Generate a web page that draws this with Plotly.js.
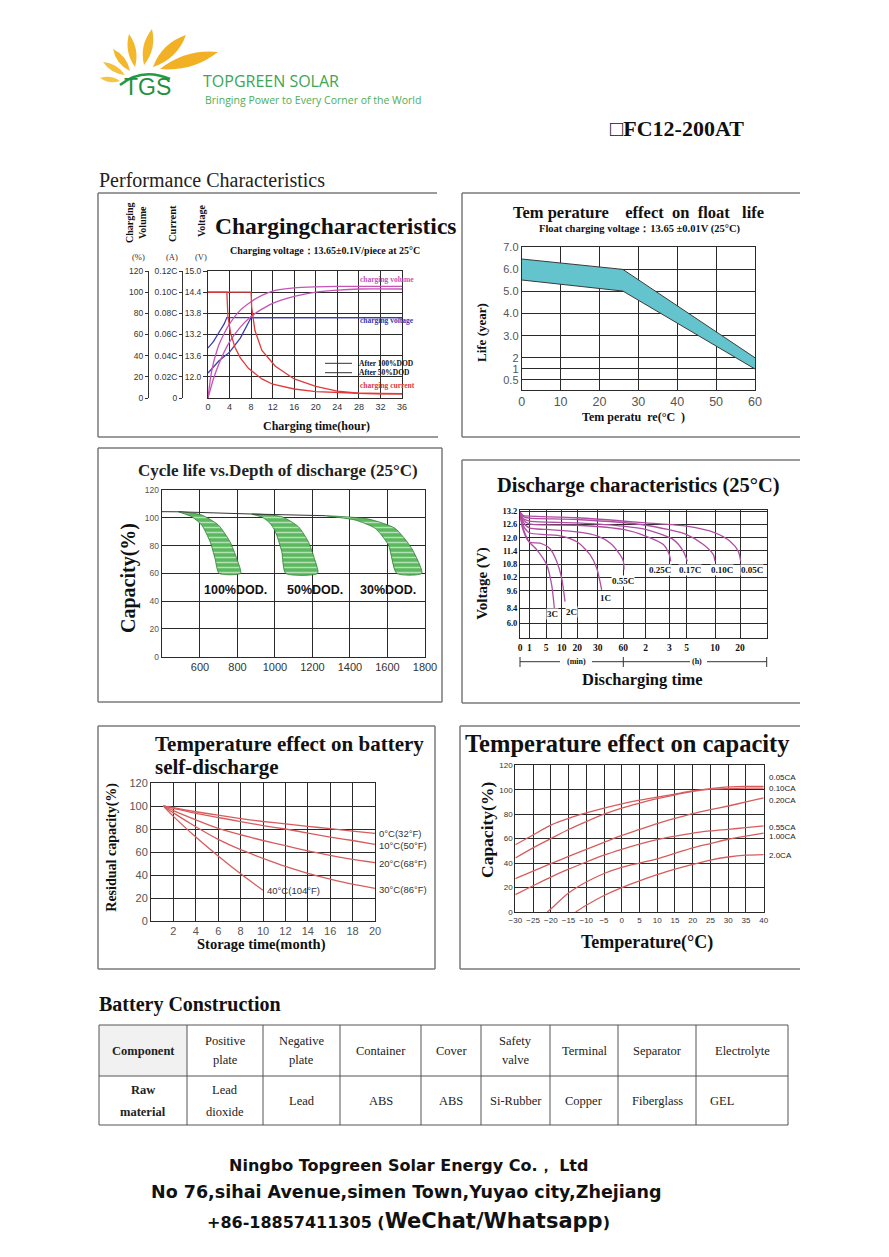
<!DOCTYPE html>
<html><head><meta charset="utf-8">
<script src="https://cdn.plot.ly/plotly-3.0.1.min.js"></script>
<style>html,body{margin:0;padding:0;background:#fff}#chart{width:889px;height:1257px}</style>
</head><body><div id="chart"></div>
<script>
// ================= DATA =================
// Charging characteristics
const chgHours = [0,4,8,12,16,20,24,28,32,36];
const chgTime100Vol = [0,0.5,1,1.5,2,3,4,6,8,10,12,16,20,24,28,36];
const chgVol100 = [0,20,33,42,50,61,70,83,91,97,101,104,105,105.5,105.5,105.5];
const chgTime50Vol = [0,1,2,4,6,8,10,12,16,20,24,28,36];
const chgVol50 = [0,18,32,53,67,77,84,89.5,96,100,102,103,103];
const chgTime100V = [0,1,2,3,3.5,36];
const chgV100 = [12.82,13.0,13.25,13.5,13.68,13.68];
const chgTime50V = [0,2,4,6,8,36];
const chgV50 = [12.11,12.45,12.7,13.1,13.68,13.68];
const chgTime100I = [0,3.5,3.7,4.2,5,6,7.5,10,12,16,20,24,28,36];
const chgI100 = [0.10,0.10,0.077,0.061,0.048,0.038,0.028,0.018,0.013,0.0085,0.006,0.005,0.0045,0.004];
const chgTime50I = [0,8,8.1,8.7,10,12.5,16,20,24,28,32,36];
const chgI50 = [0.10,0.10,0.086,0.064,0.045,0.030,0.018,0.011,0.0065,0.0045,0.004,0.004];
const chgVolTicks = [0,20,40,60,80,100,120];
const chgCurTicks = [0,0.02,0.04,0.06,0.08,0.10,0.12];
const chgCurLabels = ['0','0.02C','0.04C','0.06C','0.08C','0.10C','0.12C'];
const chgVoltTicks = [12.0,12.6,13.2,13.8,14.4,15.0];
const chgVoltLabels = ['12.0','13.6','13.2','13.8','14.4','15.0'];

// Temperature effect on float life
const floatTemp = [0,26,60];
const floatLifeUpper = [6.47,6.0,2.0];
const floatLifeLower = [5.52,5.02,1.49];
const floatXTicks = [0,10,20,30,40,50,60];
const floatYTicks = [1.0,1.5,2.0,3,4,5,6,7];
const floatYLabels = ['0.5','1','2','3.0','4.0','5.0','6.0','7.0'];

// Cycle life vs depth of discharge
const cycXTicks = [600,800,1000,1200,1400,1600,1800];
const cycYTicks = [0,20,40,60,80,100,120];
const cycTopCycles = [396,485,876,1267];
const cycTopCap = [104.4,104.3,102.7,101.5];
const dod100InCyc = [485,556,609,654,680,702];
const dod100InCap = [104.4,100.8,94.8,82.8,70.8,60];
const dod100OutCyc = [485,609,698,760,796,817];
const dod100OutCap = [104.4,102,94.8,82.8,70.8,60];
const dod50InCyc = [876,930,965,990,1009,1036,1057];
const dod50InCap = [102.7,100.5,97.2,93,87.6,75.6,60];
const dod50OutCyc = [876,1036,1125,1178,1210,1228];
const dod50OutCap = [102.7,100.8,93.6,82.8,70.8,60];
const dod30InCyc = [1267,1427,1534,1605,1649];
const dod30InCap = [101.5,98.4,92.4,80.4,60];
const dod30OutCyc = [1267,1498,1640,1729,1783];
const dod30OutCap = [101.5,99.1,92.4,78,60];
const dodLabels = ['100%DOD.','50%DOD.','30%DOD.'];

// Discharge characteristics (x = position along the hand-drawn time scale)
const disTickPos = [0,28,78,125,172,233,310,377,448,500,585,660];
const disTickLabels = ['0','1','5','10','20','30','60','2','3','5','10','20'];
const disVTicks = [13.2,12.6,12.0,11.4,10.8,10.2,9.6,8.81,8.13];
const disVLabels = ['13.2','12.6','12.0','11.4','10.8','10.2','9.6','8.4','6.0'];
const dis3C_t = [0,8,28,50,80,95,103];
const dis3C_v = [13.15,12.5,11.8,11.46,10.78,9.87,8.81];
const dis2C_t = [0,8,28,60,90,110,125,135];
const dis2C_v = [13.15,12.4,11.8,11.75,11.5,10.93,10.17,9.11];
const dis1C_t = [0,8,28,78,125,172,210,230,245];
const dis1C_v = [13.15,12.6,12.22,12.14,12.07,11.8,11.23,10.63,9.64];
const dis055C_t = [0,8,28,78,172,233,270,300,310,312];
const dis055C_v = [13.15,12.75,12.44,12.37,12.26,12.07,11.76,11.23,10.93,10.55];
const dis025C_t = [0,10,28,172,310,377,430,448,452];
const dis025C_v = [13.15,12.8,12.62,12.56,12.37,12.07,11.69,11.23,10.93];
const dis017C_t = [0,10,28,172,310,377,460,490,502];
const dis017C_v = [13.15,12.85,12.75,12.67,12.52,12.37,11.91,11.38,10.93];
const dis010C_t = [0,10,28,172,378,500,550,580,585];
const dis010C_v = [13.15,12.95,12.88,12.82,12.56,12.14,11.69,11.23,10.93];
const dis005C_t = [0,10,28,172,378,500,585,630,655,662];
const dis005C_v = [13.15,13.0,12.97,12.9,12.67,12.52,12.22,11.84,11.38,10.93];
const disRateLabels = ['3C','2C','1C','0.55C','0.25C','0.17C','0.10C','0.05C'];
const disLabelPos = [98,154,255,308,420,510,605,695];
const disLabelV = [8.54,8.63,9.27,10.02,10.55,10.55,10.55,10.55];

// Temperature effect on self-discharge
const sdXTicks = [2,4,6,8,10,12,14,16,18,20];
const sdYTicks = [0,20,40,60,80,100,120];
const sdMonth = [1.1,2,4,6,8,10,12,14,16,18,20];
const sd0C = [100,98.5,95,92,89,86.5,84.5,82.3,80.3,78.2,76.2];
const sd10C = [100,98,93.5,90,86.5,83,80,76.5,73,70,66.7];
const sd20C = [100,96,88,80.5,75,70,65.5,61,57,53.5,50.7];
const sd30C = [100,94,82,71,62,54.5,47.5,41.5,36.5,32,28.4];
const sdMonth40 = [1.1,2,4,6,8,10];
const sd40C = [100,91,73,56.5,41,26.7];
const sdLabels = ['0°C(32°F)','10°C(50°F)','20°C(68°F)','30°C(86°F)','40°C(104°F)'];
const sdLabelY = [76,65.5,50,27.5,26.5];

// Temperature effect on capacity
const tcXTicks = [-30,-25,-20,-15,-10,-5,0,5,10,15,20,25,30,35,40];
const tcYTicks = [0,20,40,60,80,100,120];
const tcTemp = [-30,-25,-20,-15,-10,-5,0,5,10,15,20,25,30,35,40];
const tc005 = [55,63,71,76.5,81,85,88.5,91.5,94,96.5,99,101,102.3,102.8,102.8];
const tc010 = [44.2,52.5,60,67.5,74,80,85,89,92.7,95.8,98.7,100.5,101,101.3,101.4];
const tc020 = [27.3,33.5,39.5,45.5,51.3,57,62.7,67.5,72.3,76.5,80.4,83.7,86.7,90,93.3];
const tc055 = [14.2,21.5,28.6,35,40.9,46.5,51.3,55.5,59.2,62,64.6,66.3,67.6,69,70.4];
const tcTemp100 = [-21,-20,-15,-10,-5,0,5,10,15,20,25,30,35,40];
const tc100 = [0,2.5,15.5,24.5,31.5,36.5,40,43.5,48,52.5,56,59.5,62,64.5];
const tcTemp200 = [-13,-10,-5,0,5,10,15,20,25,30,35,40];
const tc200 = [0,5.5,13.5,20,25.5,30.5,35,39,42.5,45,46.5,47];
const tcLabels = ['0.05CA','0.10CA','0.20CA','0.55CA','1.00CA','2.0CA'];
const tcLabelY = [110,101,91.4,69.5,61.4,46.6];

// Battery construction table
const tableHeader = ['Component','Positive<br>plate','Negative<br>plate','Container','Cover','Safety<br>valve','Terminal','Separator','Electrolyte'];
const tableRow = ['Raw<br>material','Lead<br>dioxide','Lead','ABS','ABS','Si-Rubber','Copper','Fiberglass','GEL'];

// ================= LAYOUT HELPERS =================
const W = 889, H = 1257;
const SERIF = 'Liberation Serif, Times New Roman, serif';
const SANS = 'Liberation Sans, Arial, sans-serif';
const NARROW = 'Liberation Sans Narrow, Liberation Sans, Arial, sans-serif';
const WIDE = 'DejaVu Sans, Liberation Sans, sans-serif';
const PINK = '#C653B6', BLUE = '#3B3BB3', RED = '#E03A3A', PURPLE = '#B04EA2', LRED = '#D85C5C';
const xd = (a,b) => [a/W, b/W];
const yd = (top,bot) => [1-bot/H, 1-top/H];
function A(text, x, y, o) {
  return Object.assign({text:text, x:x/W, y:1-y/H, xref:'paper', yref:'paper', showarrow:false,
    xanchor:'center', yanchor:'middle', font:{family:SERIF, size:12, color:'#111'}}, o||{});
}
function L(x0,y0,x1,y1,color,width) {
  return {type:'line', xref:'paper', yref:'paper', x0:x0/W, y0:1-y0/H, x1:x1/W, y1:1-y1/H,
    line:{color:color||'#7a7a7a', width:width||1.5}};
}
function axis(o) {
  return Object.assign({showgrid:true, gridcolor:'#2a2a2a', gridwidth:1, showline:true, linecolor:'#2a2a2a',
    linewidth:1, mirror:true, zeroline:false, ticks:'', fixedrange:true, tickangle:0,
    tickfont:{family:SANS, size:10, color:'#333'}}, o);
}
function ln(x, y, xa, ya, color, w, shape) {
  return {type:'scatter', mode:'lines', x:x, y:y, xaxis:xa, yaxis:ya, hoverinfo:'skip', showlegend:false,
    line:{color:color, width:w||1.2, shape:shape||'spline', smoothing:0.7}};
}
function leaf(bx,by,tx,ty,w,color) {
  const mx=(bx+tx)/2, my=(by+ty)/2, dx=tx-bx, dy=ty-by, len=Math.hypot(dx,dy);
  const nx=-dy/len*w, ny=dx/len*w;
  const p=(x,y)=>(x/W).toFixed(5)+','+(1-y/H).toFixed(5);
  return {type:'path', xref:'paper', yref:'paper', fillcolor:color, line:{width:0},
    path:'M '+p(bx,by)+' Q '+p(mx+nx,my+ny)+' '+p(tx,ty)+' Q '+p(mx-nx,my-ny)+' '+p(bx,by)+' Z'};
}

// ================= TRACES =================
const traces = [];
// Chart 1
traces.push(ln(chgTime100Vol, chgVol100, 'x', 'y2', PINK, 1.3));
traces.push(ln(chgTime50Vol, chgVol50, 'x', 'y2', PINK, 1.3));
traces.push(ln(chgTime100V, chgV100, 'x', 'y', BLUE, 1.3, 'linear'));
traces.push(ln(chgTime50V, chgV50, 'x', 'y', BLUE, 1.3, 'linear'));
traces.push(ln(chgTime100I, chgI100, 'x', 'y3', RED, 1.3, 'linear'));
traces.push(ln(chgTime50I, chgI50, 'x', 'y3', RED, 1.3, 'linear'));
// Chart 2
traces.push(ln(floatTemp, floatLifeLower, 'x2', 'y4', '#3a3a3a', 1, 'linear'));
traces.push(Object.assign(ln(floatTemp, floatLifeUpper, 'x2', 'y4', '#3a3a3a', 1, 'linear'), {fill:'tonexty', fillcolor:'#63C4CD'}));
// Chart 3
function band(inC, inY, outC, outY) {
  return {type:'scatter', mode:'lines', xaxis:'x3', yaxis:'y5', hoverinfo:'skip', showlegend:false,
    x: inC.concat(outC.slice().reverse()), y: inY.concat(outY.slice().reverse()),
    fill:'toself', fillcolor:'#5CB85E',
    fillpattern:{shape:'-', bgcolor:'#5CB85E', fgcolor:'#ffffff', fgopacity:0.55, size:5, solidity:0.3},
    line:{color:'#2F7D33', width:0.8, shape:'spline', smoothing:0.6}};
}
traces.push(band(dod100InCyc, dod100InCap, dod100OutCyc, dod100OutCap));
traces.push(band(dod50InCyc, dod50InCap, dod50OutCyc, dod50OutCap));
traces.push(band(dod30InCyc, dod30InCap, dod30OutCyc, dod30OutCap));
traces.push(ln(cycTopCycles, cycTopCap, 'x3', 'y5', '#333', 1, 'linear'));
// Chart 4
[[dis3C_t,dis3C_v],[dis2C_t,dis2C_v],[dis1C_t,dis1C_v],[dis055C_t,dis055C_v],
 [dis025C_t,dis025C_v],[dis017C_t,dis017C_v],[dis010C_t,dis010C_v],[dis005C_t,dis005C_v]]
 .forEach(c => traces.push(ln(c[0], c[1], 'x4', 'y6', PURPLE, 1.3)));
// Chart 5
[sd0C, sd10C, sd20C, sd30C].forEach(s => traces.push(ln(sdMonth, s, 'x5', 'y7', LRED, 1.3)));
traces.push(ln(sdMonth40, sd40C, 'x5', 'y7', LRED, 1.3));
// Chart 6
[tc005, tc010, tc020, tc055].forEach(s => traces.push(ln(tcTemp, s, 'x6', 'y8', LRED, 1.3)));
traces.push(ln(tcTemp100, tc100, 'x6', 'y8', LRED, 1.3));
traces.push(ln(tcTemp200, tc200, 'x6', 'y8', LRED, 1.3));

// ================= AXES =================
const layout = {
  width: W, height: H, margin:{l:0,r:0,t:0,b:0}, paper_bgcolor:'#fff', plot_bgcolor:'rgba(0,0,0,0)',
  showlegend:false,
  // Chart 1
  xaxis: axis({domain:xd(208,402), range:[0,36], tickvals:chgHours, anchor:'y',
    tickfont:{family:NARROW, size:9, color:'#333'}}),
  yaxis: axis({domain:yd(271,398), range:[11.4,15.0], tickvals:chgVoltTicks, ticktext:chgVoltLabels, anchor:'x',
    ticks:'outside', ticklen:4, tickcolor:'#333', tickfont:{family:NARROW, size:8.5, color:'#333'}}),
  yaxis2: {overlaying:'y', anchor:'free', position:148/W, range:[0,120], tickvals:chgVolTicks, showgrid:false,
    showline:true, linecolor:'#333', ticks:'outside', ticklen:3, tickcolor:'#333', zeroline:false, fixedrange:true,
    tickfont:{family:NARROW, size:8.5, color:'#333'}},
  yaxis3: {overlaying:'y', anchor:'free', position:182/W, range:[0,0.12], tickvals:chgCurTicks, ticktext:chgCurLabels,
    showgrid:false, showline:true, linecolor:'#333', ticks:'outside', ticklen:3, tickcolor:'#333', zeroline:false,
    fixedrange:true, tickfont:{family:NARROW, size:8.5, color:'#333'}},
  // Chart 2
  xaxis2: axis({domain:xd(521.7,755), range:[0,60], tickvals:floatXTicks, anchor:'y4',
    tickfont:{family:SANS, size:12.5, color:'#555'}}),
  yaxis4: axis({domain:yd(247.3,390), range:[0.54,7.0], tickvals:floatYTicks, ticktext:floatYLabels, anchor:'x2',
    tickfont:{family:SANS, size:11, color:'#555'}}),
  // Chart 3
  xaxis3: axis({domain:xd(161.7,425), range:[396,1800], tickvals:cycXTicks, anchor:'y5',
    tickfont:{family:SANS, size:11, color:'#333'}}),
  yaxis5: axis({domain:yd(490,656.7), range:[0,120], tickvals:cycYTicks, anchor:'x3',
    tickfont:{family:NARROW, size:8.5, color:'#555'}}),
  // Chart 4
  xaxis4: axis({domain:xd(520,766.7), range:[0,740], tickvals:disTickPos, ticktext:disTickLabels, anchor:'y6',
    tickfont:{family:SERIF, size:9.5, color:'#111', weight:'bold'}}),
  yaxis6: axis({domain:yd(510,638.3), range:[7.45,13.25], tickvals:disVTicks, ticktext:disVLabels, anchor:'x4',
    tickfont:{family:SERIF, size:8.5, color:'#111', weight:'bold'}}),
  // Chart 5
  xaxis5: axis({domain:xd(151,375), range:[0,20], tickvals:sdXTicks, anchor:'y7',
    tickfont:{family:SANS, size:11, color:'#555'}}),
  yaxis7: axis({domain:yd(783,921), range:[0,120], tickvals:sdYTicks, anchor:'x5',
    tickfont:{family:SANS, size:11, color:'#555'}}),
  // Chart 6
  xaxis6: axis({domain:xd(515.3,763.7), range:[-30,40], tickvals:tcXTicks, anchor:'y8',
    tickfont:{family:NARROW, size:8, color:'#333'}}),
  yaxis8: axis({domain:yd(765.3,912), range:[0,120], tickvals:tcYTicks, anchor:'x6',
    tickfont:{family:NARROW, size:8, color:'#333'}})
};

// ================= SHAPES =================
const shapes = [];
// panel frames
shapes.push(L(98,193,437,193), L(98,193,98,437), L(98,437,438,437));
shapes.push(L(462,193,800,193), L(462,193,462,437), L(462,437,800,437));
shapes.push(L(98,448,442,448), L(98,448,98,702), L(98,702,442,702), L(442,448,442,702));
shapes.push(L(462,460,800,460), L(462,460,462,703), L(462,703,800,703));
shapes.push(L(98,726,435,726), L(98,726,98,969), L(98,969,435,969), L(435,726,435,969));
shapes.push(L(460,726,800,726), L(460,726,460,969), L(460,969,800,969));
// chart1 legend lines
shapes.push(L(325,363.3,352,363.3,'#333',1), L(325,372.7,352,372.7,'#333',1));
// chart4 time bracket
shapes.push(L(520,661.7,560,661.7,'#333',1), L(592,661.7,690,661.7,'#333',1), L(707,661.7,766.7,661.7,'#333',1));
shapes.push(L(520,657,520,667,'#333',1), L(623.3,657,623.3,667,'#333',1), L(766.7,657,766.7,667,'#333',1));
// logo petals
const GOLD = '#F3B72B';
shapes.push(leaf(120,81,100,78,5,'#F6C544'), leaf(125,75,103,62,6,'#F5C03A'), leaf(130,71,113,49,7,GOLD),
  leaf(135,67,129,34,8,GOLD), leaf(144,65,152,29,9,GOLD), leaf(153,67,186,35,11,'#F2B124'), leaf(160,69,218,52,12,'#F2B124'));
shapes.push({type:'path', xref:'paper', yref:'paper', line:{color:'#249A45', width:2.5},
  path:'M '+(120/W)+','+(1-85/H)+' Q '+(142/W)+','+(1-67/H)+' '+(170/W)+','+(1-79/H)});
// table
const colEdges = [99,187,263,340,421,481,550,618,696,788];
const rowEdges = [1025,1076,1125];
shapes.push({type:'rect', xref:'paper', yref:'paper', x0:99/W, x1:187/W, y0:1-1076/H, y1:1-1025/H,
  fillcolor:'#f1f1f1', line:{width:0}, layer:'below'});
rowEdges.forEach(r => shapes.push(L(colEdges[0], r, colEdges[colEdges.length-1], r, '#555', 1)));
colEdges.forEach(c => shapes.push(L(c, rowEdges[0], c, rowEdges[2], '#555', 1)));
layout.shapes = shapes;

// ================= ANNOTATIONS =================
const ann = [];
const F = (family,size,color) => ({family:family, size:size, color:color||'#111'});
// header
ann.push(A('TGS', 147, 87, {font:F(SANS,23,'#1E9140')}));
ann.push(A('TOPGREEN SOLAR', 201, 80.5, {xanchor:'left', font:F('Open Sans, Liberation Sans, sans-serif',16,'#3BA655')}));
ann.push(A('Bringing Power to Every Corner of the World', 203, 99.5, {xanchor:'left', font:F('Open Sans, Liberation Sans, sans-serif',10.5,'#4FAE58')}));
ann.push(A('<b>\u25A1FC12-200AT</b>', 608, 128, {xanchor:'left', font:F(SERIF,22)}));
ann.push(A('Performance Characteristics', 97, 180, {xanchor:'left', font:F(SERIF,20,'#222')}));
// chart 1
ann.push(A('<b>Chargingcharacteristics</b>', 335, 226, {font:F(SERIF,23.5)}));
ann.push(A('<b>Charging voltage\uFF1A13.65\u00B10.1V/piece at 25\u00B0C</b>', 325, 250, {font:F(SERIF,10)}));
ann.push(A('<b>Charging<br>Volume</b>', 136, 223, {textangle:-90, font:F(SERIF,10)}));
ann.push(A('<b>Current</b>', 172, 224, {textangle:-90, font:F(SERIF,10.5)}));
ann.push(A('<b>Voltage</b>', 202, 221, {textangle:-90, font:F(SERIF,10)}));
ann.push(A('(%)', 138, 257, {font:F(SERIF,8.5,'#333')}));
ann.push(A('(A)', 172, 257, {font:F(SERIF,8.5,'#333')}));
ann.push(A('(V)', 201, 257, {font:F(SERIF,8.5,'#333')}));
ann.push(A('<b>Charging time(hour)</b>', 316, 426, {font:F(SERIF,12)}));
ann.push(A('<b>After 100%DOD</b>', 357, 363.3, {xanchor:'left', font:F(SERIF,7.5)}));
ann.push(A('<b>After 50%DOD</b>', 357, 372.7, {xanchor:'left', font:F(SERIF,7.5)}));
ann.push(A('<b>charging volume</b>', 358, 280, {xanchor:'left', font:F(SERIF,7.5,PINK)}));
ann.push(A('<b>charging voltage</b>', 358, 321, {xanchor:'left', font:F(SERIF,7.5,BLUE)}));
ann.push(A('<b>charging current</b>', 358, 386, {xanchor:'left', font:F(SERIF,7.5,RED)}));
// chart 2
ann.push(A('<b>Tem perature\u00A0\u00A0\u00A0 effect\u00A0 on\u00A0 float\u00A0\u00A0 life</b>', 638, 213, {font:F(SERIF,16.5)}));
ann.push(A('<b>Float charging voltage\uFF1A13.65 \u00B10.01V (25\u00B0C)</b>', 640, 229, {font:F(SERIF,10.5)}));
ann.push(A('<b>Life (year)</b>', 481, 333, {textangle:-90, font:F(SERIF,13)}));
ann.push(A('<b>Tem peratu\u00A0 re(\u00B0C\u00A0 )</b>', 633, 416.7, {font:F(SERIF,12)}));
// chart 3
ann.push(A('<b>Cycle life vs.Depth of discharge (25\u00B0C)</b>', 278, 470, {font:F(SERIF,17,'#222')}));
ann.push(A('<b>Capacity(%)</b>', 128, 578, {textangle:-90, font:F(SERIF,20)}));
const dodX = [235,315,388];
dodLabels.forEach((t,i) => ann.push(A('<b>'+t+'</b>', dodX[i], 590, {font:F(NARROW,12.5)})));
// chart 4
ann.push(A('<b>Discharge characteristics (25\u00B0C)</b>', 638.5, 485.7, {font:F(SERIF,20.5)}));
ann.push(A('<b>Voltage (V)</b>', 481.7, 584, {textangle:-90, font:F(SERIF,15)}));
ann.push(A('<b>Discharging time</b>', 642, 679, {font:F(SERIF,16.5)}));
ann.push(A('<b>(min)</b>', 576.7, 661.7, {font:F(SERIF,8)}));
ann.push(A('<b>(h)</b>', 697, 661.7, {font:F(SERIF,8)}));
disRateLabels.forEach((t,i) => ann.push({text:'<b>'+t+'</b>', x:disLabelPos[i], y:disLabelV[i], xref:'x4', yref:'y6',
  showarrow:false, bgcolor:'#fff', borderpad:0, font:F(SERIF,9)}));
// chart 5
ann.push(A('<b>Temperature effect on battery</b>', 153, 743.7, {xanchor:'left', font:F(SERIF,21)}));
ann.push(A('<b>self-discharge</b>', 153, 767, {xanchor:'left', font:F(SERIF,21)}));
ann.push(A('<b>Residual capacity(%)</b>', 111.7, 847, {textangle:-90, font:F(SERIF,14)}));
ann.push(A('<b>Storage time(month)</b>', 261.7, 945, {font:F(SERIF,14.5)}));
sdLabels.forEach((t,i) => ann.push({text:t, x:(i<4?20:10.2), y:sdLabelY[i], xref:'x5', yref:'y7', showarrow:false,
  xanchor:'left', xshift:(i<4?2:0), font:F(SANS,9.5,'#333')}));
// chart 6
ann.push(A('<b>Temperature effect on capacity</b>', 627, 743.7, {font:F(SERIF,24.5)}));
ann.push(A('<b>Capacity(%)</b>', 487, 830, {textangle:-90, font:F(SERIF,17.5)}));
ann.push(A('<b>Temperature(\u00B0C)</b>', 647, 942, {font:F(SERIF,18)}));
tcLabels.forEach((t,i) => ann.push({text:t, x:40, y:tcLabelY[i], xref:'x6', yref:'y8', showarrow:false,
  xanchor:'left', xshift:3, font:F(NARROW,8,'#222')}));
// table
ann.push(A('<b>Battery Construction</b>', 97, 1004, {xanchor:'left', font:F(SERIF,20)}));
function cellText(txt, ci, top, bot, bold, gap) {
  const cx = (colEdges[ci]+colEdges[ci+1])/2, cy = (top+bot)/2;
  const lines = txt.split('<br>');
  const f = F(SERIF,12.5,'#222');
  if (lines.length === 1) {
    const alignLeft = (ci === 8 && top > 1050);
    ann.push(A(bold?'<b>'+txt+'</b>':txt, alignLeft ? colEdges[ci]+12 : cx, cy, {xanchor: alignLeft?'left':'center', font:f}));
  } else {
    lines.forEach((l,k) => ann.push(A(bold?'<b>'+l+'</b>':l, cx, cy + (k-0.5)*gap, {font:f})));
  }
}
tableHeader.forEach((t,i) => cellText(t, i, rowEdges[0], rowEdges[1], i===0, 19));
tableRow.forEach((t,i) => cellText(t, i, rowEdges[1], rowEdges[2], i===0, 22));
// footer
ann.push(A('<b>Ningbo Topgreen Solar Energy Co.\uFF0C Ltd</b>', 408, 1165, {font:F(WIDE,16)}));
ann.push(A('<b>No 76,sihai Avenue,simen Town,Yuyao city,Zhejiang</b>', 406.5, 1192, {font:F(WIDE,17.5)}));
ann.push(A('<b>+86-18857411305 (</b><span style="font-size:21px"><b>WeChat/Whatsapp</b></span><b>)</b>', 408, 1221, {font:F(WIDE,16)}));
layout.annotations = ann;

Plotly.newPlot('chart', traces, layout, {staticPlot:true, displayModeBar:false});
</script>
</body></html>
